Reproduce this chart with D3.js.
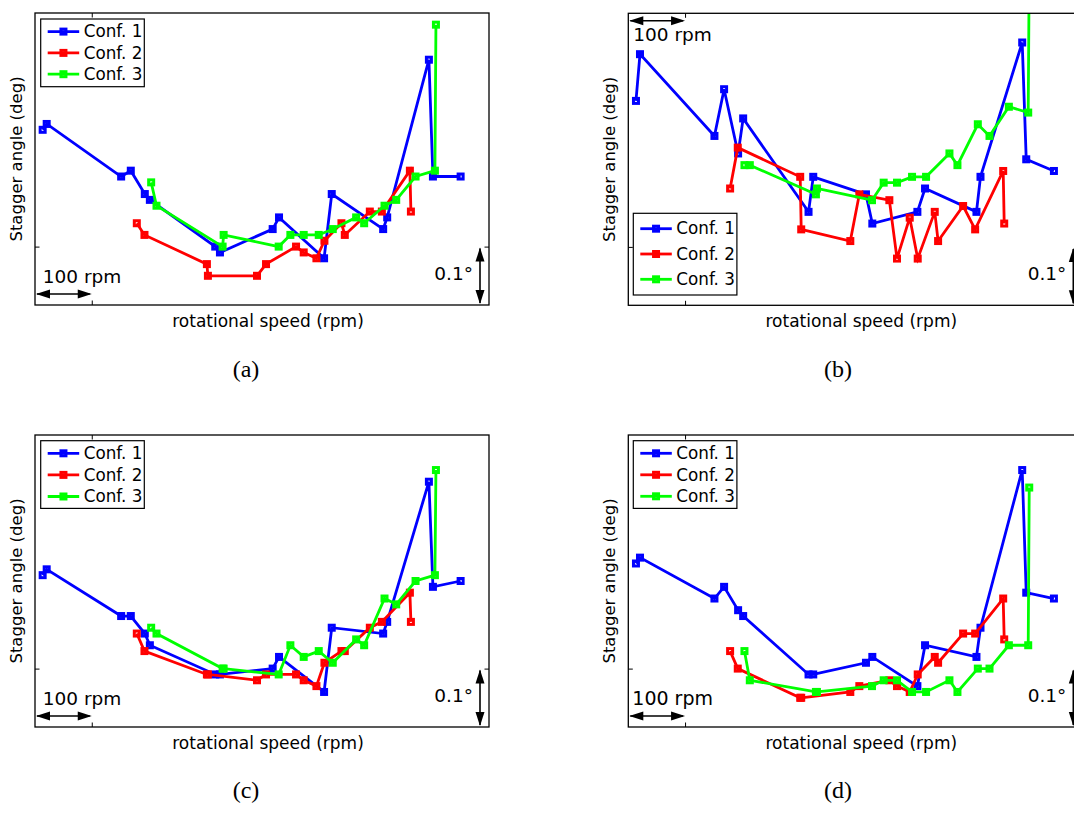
<!DOCTYPE html>
<html><head><meta charset="utf-8">
<script src="https://cdn.jsdelivr.net/npm/d3@7"></script>
<style>body{margin:0;background:#fff} svg{display:block}</style>
</head><body>
<svg id="chart" width="1074" height="814"></svg>
<script>
// ---------- data ----------
const seriesNames = ["Conf. 1", "Conf. 2", "Conf. 3"];
const seriesColors = ["#0000ff", "#ff0000", "#00ff00"];
const panelLabels = ["(a)", "(b)", "(c)", "(d)"];
const xLabel = "rotational speed (rpm)";
const yLabel = "Stagger angle (deg)";
const xDomain = [0, 800];      // relative rotational speed (rpm)
const yDomain = [0, 0.5];      // relative stagger angle (deg)
const xTicks = [100];
const yTicks = [0.1];

const rpmConf1 = [13.5, 20.6, 151.8, 168.8, 193.5, 202.4, 317.6, 325.9, 418.8, 430.0, 509.4, 522.9, 613.5, 620.6, 694.1, 701.2, 750.0];
const rpmConf2 = [179.4, 192.9, 302.9, 304.7, 391.2, 407.1, 460.0, 473.5, 495.9, 510.0, 540.0, 545.9, 590.0, 611.2, 660.6, 662.4];
const rpmConf3 = [204.7, 214.1, 330.6, 332.4, 429.4, 450.0, 473.5, 500.0, 524.7, 565.9, 580.0, 615.9, 636.5, 670.6, 704.7, 706.5];

const staggerA1 = [0.30, 0.31, 0.22, 0.23, 0.19, 0.18, 0.10, 0.09, 0.13, 0.15, 0.08, 0.19, 0.13, 0.15, 0.42, 0.22, 0.22];
const staggerA2 = [0.14, 0.12, 0.07, 0.05, 0.05, 0.07, 0.10, 0.09, 0.08, 0.11, 0.14, 0.12, 0.16, 0.16, 0.23, 0.16];
const staggerA3 = [0.21, 0.17, 0.10, 0.12, 0.10, 0.12, 0.12, 0.12, 0.13, 0.15, 0.14, 0.17, 0.18, 0.22, 0.23, 0.48];

const staggerB1 = [0.35, 0.43, 0.29, 0.37, 0.26, 0.32, 0.16, 0.22, 0.19, 0.14, 0.16, 0.20, 0.16, 0.22, 0.45, 0.25, 0.23];
const staggerB2 = [0.20, 0.27, 0.22, 0.13, 0.11, 0.19, 0.18, 0.08, 0.15, 0.08, 0.16, 0.11, 0.17, 0.13, 0.23, 0.14];
const staggerB3 = [0.24, 0.24, 0.19, 0.20, 0.18, 0.21, 0.21, 0.22, 0.22, 0.26, 0.24, 0.31, 0.29, 0.34, 0.33, 0.58];

const staggerC1 = [0.26, 0.27, 0.19, 0.19, 0.16, 0.14, 0.09, 0.09, 0.10, 0.12, 0.06, 0.17, 0.16, 0.18, 0.42, 0.24, 0.25];
const staggerC2 = [0.16, 0.13, 0.09, 0.09, 0.08, 0.09, 0.09, 0.08, 0.07, 0.11, 0.13, 0.13, 0.17, 0.18, 0.23, 0.18];
const staggerC3 = [0.17, 0.16, 0.10, 0.10, 0.09, 0.14, 0.12, 0.13, 0.11, 0.15, 0.14, 0.22, 0.21, 0.25, 0.26, 0.44];

const staggerD1 = [0.28, 0.29, 0.22, 0.24, 0.20, 0.19, 0.09, 0.09, 0.11, 0.12, 0.07, 0.14, 0.12, 0.17, 0.44, 0.23, 0.22];
const staggerD2 = [0.13, 0.10, 0.05, 0.05, 0.06, 0.07, 0.08, 0.07, 0.06, 0.09, 0.12, 0.11, 0.16, 0.16, 0.22, 0.15];
const staggerD3 = [0.13, 0.08, 0.06, 0.06, 0.07, 0.08, 0.08, 0.06, 0.06, 0.08, 0.06, 0.10, 0.10, 0.14, 0.14, 0.41];

const rpmSets = [rpmConf1, rpmConf2, rpmConf3];
const panelData = [
  [staggerA1, staggerA2, staggerA3],
  [staggerB1, staggerB2, staggerB3],
  [staggerC1, staggerC2, staggerC3],
  [staggerD1, staggerD2, staggerD3]
];

// ---------- layout ----------
const W = 454, H = 292;
const FONT = "'DejaVu Sans', sans-serif";
const LW = 2.8;          // series line width
const MS = 5, MSW = 3;   // marker inner side, marker stroke
const panels = [
  {left: 35,    top: 13,   leg: {dx: 5.7, dy: 6,   h: 67.7, r0: 12.6, step: 21.3}, scaleAtTop: false, textDx: 7.7, cap: [246, 377]},
  {left: 628.3, top: 13.3, leg: {dx: 5,   dy: 200, h: 81.7, r0: 15.4, step: 25.3}, scaleAtTop: true,  textDx: 5,   cap: [838, 377]},
  {left: 35,    top: 435,  leg: {dx: 5.7, dy: 5.7, h: 67.7, r0: 12.6, step: 21.6}, scaleAtTop: false, textDx: 7.7, cap: [246, 798]},
  {left: 628.3, top: 435,  leg: {dx: 5,   dy: 5.7, h: 67.7, r0: 12.6, step: 21.5}, scaleAtTop: false, textDx: 4, cap: [838, 798]}
];

const svg = d3.select("#chart");
const defs = svg.append("defs");

function arrowHead(g, x, y, dir, len, hw) {
  let pts;
  if (dir === 'l') pts = [[x, y], [x + len, y - hw], [x + len, y + hw]];
  if (dir === 'r') pts = [[x, y], [x - len, y - hw], [x - len, y + hw]];
  if (dir === 'u') pts = [[x, y], [x - hw, y + len], [x + hw, y + len]];
  if (dir === 'd') pts = [[x, y], [x - hw, y - len], [x + hw, y - len]];
  g.append("path").attr("d", "M" + pts.map(p => p.join(",")).join("L") + "Z").attr("fill", "#000");
}

panels.forEach((p, pi) => {
  const g = svg.append("g").attr("transform", `translate(${p.left},${p.top})`);
  const x = d3.scaleLinear().domain(xDomain).range([0, W]);
  const y = d3.scaleLinear().domain(yDomain).range([H, 0]);

  const clipId = "clip" + pi;
  defs.append("clipPath").attr("id", clipId).append("rect")
    .attr("x", 0).attr("y", 0).attr("width", W).attr("height", H);

  const tk = 4.5;
  const axes = [
    g.append("g").attr("transform", `translate(0,${H})`).call(d3.axisBottom(x).tickValues(xTicks).tickFormat("").tickSizeInner(-tk).tickSizeOuter(0)),
    g.append("g").call(d3.axisTop(x).tickValues(xTicks).tickFormat("").tickSizeInner(-tk).tickSizeOuter(0)),
    g.append("g").call(d3.axisLeft(y).tickValues(yTicks).tickFormat("").tickSizeInner(-tk).tickSizeOuter(0)),
    g.append("g").attr("transform", `translate(${W},0)`).call(d3.axisRight(y).tickValues(yTicks).tickFormat("").tickSizeInner(-tk).tickSizeOuter(0))
  ];
  axes.forEach(a => { a.select(".domain").remove(); a.selectAll("line").attr("stroke", "#000").attr("stroke-width", 1); });

  const plot = g.append("g").attr("clip-path", `url(#${clipId})`);
  const line = d3.line().x(d => x(d[0])).y(d => y(d[1]));
  panelData[pi].forEach((vals, si) => {
    const pts = vals.map((v, i) => [rpmSets[si][i], v]);
    const sg = plot.append("g");
    sg.append("path").attr("d", line(pts)).attr("fill", "none")
      .attr("stroke", seriesColors[si]).attr("stroke-width", LW)
      .attr("stroke-linejoin", "miter").attr("stroke-miterlimit", 4);
    sg.selectAll("rect").data(pts).join("rect")
      .attr("x", d => x(d[0]) - MS / 2).attr("y", d => y(d[1]) - MS / 2)
      .attr("width", MS).attr("height", MS)
      .attr("fill", "none").attr("stroke", seriesColors[si]).attr("stroke-width", MSW);
  });

  g.append("rect").attr("x", 0).attr("y", 0).attr("width", W).attr("height", H)
    .attr("fill", "none").attr("stroke", "#000").attr("stroke-width", 1.3);

  // scale annotations
  const ann = g.append("g");
  const x0 = x(0), x1 = x(100);
  const ay = p.scaleAtTop ? 7.4 : H - 11;
  ann.append("line").attr("x1", x0 + 2).attr("x2", x1 - 2).attr("y1", ay).attr("y2", ay)
    .attr("stroke", "#000").attr("stroke-width", 1.6);
  arrowHead(ann, x0 + 1, ay, 'l', 14, 4.5);
  arrowHead(ann, x1, ay, 'r', 14, 4.5);
  ann.append("text").attr("x", p.textDx).attr("y", p.scaleAtTop ? 27.4 : H - 22)
    .attr("font-family", FONT).attr("font-size", pi === 3 ? 19 : 18.5).attr("fill", "#000")
    .text("100 rpm");

  const vx = W - 9;
  const vy0 = y(0.1), vy1 = y(0);
  ann.append("line").attr("x1", vx).attr("x2", vx).attr("y1", vy0 + 2).attr("y2", vy1 - 2)
    .attr("stroke", "#000").attr("stroke-width", 1.6);
  arrowHead(ann, vx, vy0 + 1, 'u', 14, 4.5);
  arrowHead(ann, vx, vy1 - 1, 'd', 14, 4.5);
  ann.append("text").attr("x", W - 16).attr("y", H - 25).attr("text-anchor", "end")
    .attr("font-family", FONT).attr("font-size", 18.5).attr("fill", "#000")
    .text("0.1\u00B0");

  g.append("text").attr("x", W / 2 + 6).attr("y", H + 21.5).attr("text-anchor", "middle")
    .attr("font-family", FONT).attr("font-size", 17).attr("fill", "#000").text(xLabel);
  g.append("text").attr("transform", `translate(-13.5,${H / 2}) rotate(-90)`).attr("text-anchor", "middle")
    .attr("font-family", FONT).attr("font-size", 16.5).attr("fill", "#000").text(yLabel);

  // legend
  const L = p.leg;
  const lg = g.append("g").attr("transform", `translate(${L.dx},${L.dy})`);
  lg.append("rect").attr("x", 0).attr("y", 0).attr("width", 103.6).attr("height", L.h)
    .attr("fill", "#fff").attr("stroke", "#000").attr("stroke-width", 1.2);
  seriesNames.forEach((nm, si) => {
    const ry = L.r0 + si * L.step;
    lg.append("line").attr("x1", 7).attr("x2", 38.5).attr("y1", ry).attr("y2", ry)
      .attr("stroke", seriesColors[si]).attr("stroke-width", LW);
    lg.append("rect").attr("x", 22.75 - MS / 2).attr("y", ry - MS / 2).attr("width", MS).attr("height", MS)
      .attr("fill", "none").attr("stroke", seriesColors[si]).attr("stroke-width", MSW);
    lg.append("text").attr("x", 43).attr("y", ry + 5.8)
      .attr("font-family", FONT).attr("font-size", 16.8).attr("fill", "#000").text(nm);
  });

  svg.append("text").attr("x", p.cap[0]).attr("y", p.cap[1]).attr("text-anchor", "middle")
    .attr("font-family", "'Liberation Serif', serif").attr("font-size", 24).attr("fill", "#000")
    .text(panelLabels[pi]);
});
</script>
</body></html>
